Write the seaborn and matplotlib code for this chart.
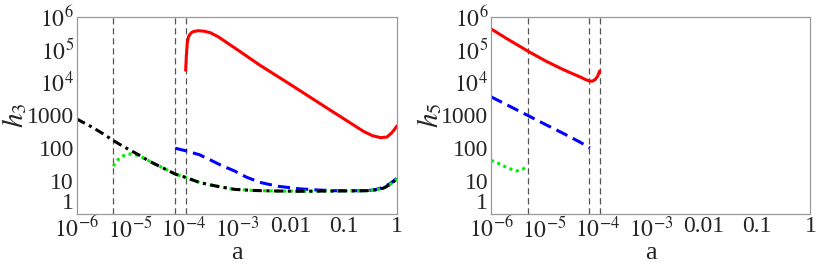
import seaborn as sns
import pandas as pd
import numpy as np
import matplotlib.pyplot as plt
from matplotlib.ticker import FixedLocator, LogLocator, NullFormatter

# data
# left panel (h3)
red3_a = [1.1e-4, 1.13e-4, 1.18e-4, 1.25e-4, 1.4e-4, 1.55e-4, 1.9e-4, 2.5e-4, 3.2e-4, 4.5e-4, 6.5e-4,
          1e-3, 2.7e-3, 1e-2, 5.6e-2, 1e-1, 2.4e-1, 3.5e-1, 5e-1, 6.5e-1, 8e-1, 9e-1, 1.0]
red3_h = [2.3e4, 6.0e4, 1.6e5, 2.5e5, 3.2e5, 3.5e5, 3.7e5, 3.55e5, 3.2e5, 2.4e5, 1.6e5,
          1.0e5, 3.3e4, 8.6e3, 1.42e3, 780, 314, 235, 205, 215, 290, 370, 470]
blue3_a = [7e-5, 1.07e-4, 2e-4, 3.2e-4, 5e-4, 9e-4, 1.5e-3, 2.7e-3, 3.7e-3, 6e-3, 1.5e-2, 3e-2,
           6.5e-2, 1.5e-1, 2.7e-1, 4e-1, 5.6e-1, 7.5e-1, 1.0]
blue3_h = [98, 83, 62, 43, 30, 20, 13, 9.0, 8.0, 6.8, 5.7, 5.3,
           5.0, 5.0, 5.0, 5.4, 6.4, 8.3, 12]
green3_a = [4.85e-6, 5.3e-6, 6e-6, 7.5e-6, 9.3e-6, 1.2e-5, 1.55e-5, 2e-5, 2.75e-5, 4.5e-5, 7e-5, 1.07e-4,
            2e-4, 3.2e-4, 5e-4, 9e-4, 2e-3, 5e-3, 1.5e-2, 6.5e-2, 2.7e-1, 4e-1, 5.6e-1, 7.5e-1, 1.0]
green3_h = [28, 36, 45, 58, 66, 63, 56, 45, 34, 23, 16, 12.9,
            8.9, 7.5, 6.5, 5.5, 5.1, 4.9, 4.8, 4.9, 5.0, 5.3, 6.0, 7.8, 11.5]
black3_a = [1e-6, 2e-6, 3e-6, 4.85e-6, 7e-6, 1e-5, 1.55e-5, 2e-5, 2.75e-5, 4.5e-5, 7e-5, 1.07e-4,
            2e-4, 3.2e-4, 5e-4, 9e-4, 2e-3, 5e-3, 1.5e-2, 6.5e-2, 2.7e-1, 4e-1, 5.6e-1, 7.5e-1, 1.0]
black3_h = [760, 420, 280, 168, 118, 86, 58, 45, 34, 23, 16, 12.9,
            8.9, 7.5, 6.5, 5.5, 5.1, 4.9, 4.8, 4.9, 5.0, 5.3, 6.0, 7.8, 11.5]

# right panel (h5)
red5_a = [1e-6, 2e-6, 5e-6, 1.1e-5, 2.3e-5, 4.7e-5, 6e-5, 7.2e-5, 8e-5, 9e-5, 1.0e-4, 1.1e-4]
red5_h = [4.2e5, 2.1e5, 8.7e4, 4.3e4, 2.4e4, 1.45e4, 1.2e4, 1.08e4, 1.08e4, 1.2e4, 1.5e4, 2.2e4]
blue5_a = [1e-6, 2e-6, 5e-6, 1e-5, 2.3e-5, 4.7e-5, 7.2e-5]
blue5_h = [3600, 2040, 960, 540, 275, 150, 100]
green5_a = [1e-6, 1.5e-6, 2e-6, 3e-6, 4e-6, 5e-6]
green5_h = [42, 32, 25, 20, 23, 28]

vlines_a = [4.85e-6, 7e-5, 1.1e-4]

xticks = [1e-6, 1e-5, 1e-4, 1e-3, 1e-2, 1e-1, 1]
xticklabels = ["$10^{-6}$", "$10^{-5}$", "$10^{-4}$", "$10^{-3}$", "0.01", "0.1", "1"]
yticks = [1, 10, 100, 1000, 1e4, 1e5, 1e6]
yticklabels = ["1", "10", "100", "1000", "$10^{4}$", "$10^{5}$", "$10^{6}$"]

sns.set_style("white")
plt.rcParams["font.family"] = ["Liberation Serif", "DejaVu Serif"]
plt.rcParams["mathtext.fontset"] = "stix"

fig = plt.figure(figsize=(8.17, 2.75), dpi=100)
ax1 = fig.add_axes([0.0939, 0.223, 0.392, 0.717])
ax2 = fig.add_axes([0.601, 0.223, 0.391, 0.717])

def draw(ax, series, ylabel):
    for a, h, col, ls in series:
        sns.lineplot(x=a, y=h, ax=ax, color=col, linestyle=ls, linewidth=2.2,
                     sort=False, estimator=None)
    for v in vlines_a:
        ax.axvline(v, color="#555555", lw=0.9, ls=(0, (5, 3)), zorder=0)
    ax.set_xscale("log")
    ax.set_yscale("log")
    ax.set_xlim(1e-6, 1)
    ax.set_ylim(1, 1e6)
    ax.xaxis.set_major_locator(FixedLocator(xticks))
    ax.set_xticklabels(xticklabels)
    ax.yaxis.set_major_locator(FixedLocator(yticks))
    ax.set_yticklabels(yticklabels)
    # the "1" sits above its tick, as in the original
    ax.get_yticklabels()[0].set_verticalalignment("bottom")
    ax.yaxis.set_minor_locator(LogLocator(base=10, subs=np.arange(2, 10), numticks=20))
    ax.yaxis.set_minor_formatter(NullFormatter())
    ax.xaxis.set_minor_locator(FixedLocator([]))
    ax.tick_params(axis="both", which="major", direction="in", length=4, width=0.7,
                   color="#aaaaaa", labelsize=17, pad=2)
    ax.tick_params(axis="y", which="minor", direction="in", length=2, width=0.5, color="#bbbbbb")
    for s in ax.spines.values():
        s.set_color("#999999")
        s.set_linewidth(0.9)
    ax.set_xlabel("a", fontsize=19, labelpad=0)
    ax.set_ylabel(ylabel, fontsize=21, labelpad=-2)

draw(ax1, [
    (red3_a, red3_h, "#ff0000", "-"),
    (blue3_a, blue3_h, "#0000ff", (0, (4, 2))),
    (green3_a, green3_h, "#00ee00", (0, (1, 1.2))),
    (black3_a, black3_h, "#000000", (0, (3, 1.5, 1, 1.5))),
], "$h_3$")

draw(ax2, [
    (red5_a, red5_h, "#ff0000", "-"),
    (blue5_a, blue5_h, "#0000ff", (0, (4, 2))),
    (green5_a, green5_h, "#00ee00", (0, (1, 1.2))),
], "$h_5$")

fig.savefig("out.png", dpi=100)
